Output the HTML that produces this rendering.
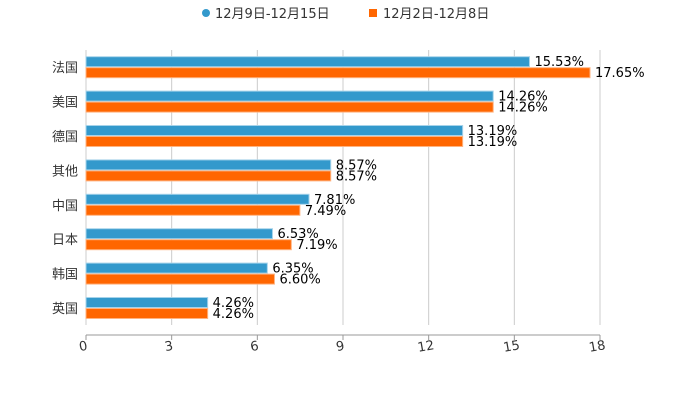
<!DOCTYPE html>
<html><head><meta charset="utf-8"><style>
body{margin:0;background:#fff;font-family:"DejaVu Sans","Noto Sans CJK SC",sans-serif;}
text{font-family:"DejaVu Sans","Noto Sans CJK SC",sans-serif;}
</style></head><body>
<svg id="c" width="700" height="400" xmlns="http://www.w3.org/2000/svg" style="display:block">
<g font-size="13" fill="#333">
<g><circle cx="206" cy="13" r="4" fill="#3399cc"/><text x="215" y="18">12月9日-12月15日</text></g>
<g><rect x="369" y="9" width="8" height="8" fill="#ff6600"/><text x="383" y="18">12月2日-12月8日</text></g>
</g>
<g id="plot"></g>
</svg>
<script>
const categories=['法国','美国','德国','其他','中国','日本','韩国','英国'];
const seriesWeek2=[15.53,14.26,13.19,8.57,7.81,6.53,6.35,4.26];
const seriesWeek1=[17.65,14.26,13.19,8.57,7.49,7.19,6.60,4.26];
const xTicks=[0,3,6,9,12,15,18];
const NS='http://www.w3.org/2000/svg';
const g=document.getElementById('plot');
const x0=86,x1=600,yTop=50,band=34.4;
const xs=v=>x0+(v/18)*(x1-x0);
const yc=i=>yTop+band*(i+0.5);
function mk(t,a,txt){const e=document.createElementNS(NS,t);for(const k in a)e.setAttribute(k,a[k]);if(txt!=null)e.textContent=txt;g.appendChild(e);return e;}
xTicks.forEach(t=>{
 const l=mk('line',{x1:xs(t),x2:xs(t),y1:yTop,y2:325,stroke:'#ccc','stroke-width':1});
 
 
 const tk=mk('line',{x1:xs(t),x2:xs(t),y1:335,y2:340,stroke:'#999','stroke-width':1});
 
 
 const tx=mk('text',{x:xs(t)-3,y:350,'text-anchor':'middle','font-size':13,fill:'#333',transform:`rotate(-10 ${xs(t)} 345)`},String(t));
 
 
});
const ax=mk('line',{x1:x0,x2:x1,y1:335,y2:335,stroke:'#999','stroke-width':1});


categories.forEach((c,i)=>{
 const y=yc(i);
 const lb=mk('text',{x:78,y:y+5,'text-anchor':'end','font-size':13,fill:'#333'},c);
 
 
 const b1=mk('rect',{x:x0,y:y-10.5,width:xs(seriesWeek2[i])-x0,height:10,fill:'#3399cc',stroke:'#a6d3ea','stroke-width':1});
 
 
 const b2=mk('rect',{x:x0,y:y+0.5,width:xs(seriesWeek1[i])-x0,height:10,fill:'#ff6600',stroke:'#ffb380','stroke-width':1});
 
 
 const v1=mk('text',{x:xs(seriesWeek2[i])+5,y:y-1,'font-size':13,fill:'#000'},seriesWeek2[i].toFixed(2)+'%');
 
 
 const v2=mk('text',{x:xs(seriesWeek1[i])+5,y:y+10,'font-size':13,fill:'#000'},seriesWeek1[i].toFixed(2)+'%');
 
 
});
</script>
</body></html>
